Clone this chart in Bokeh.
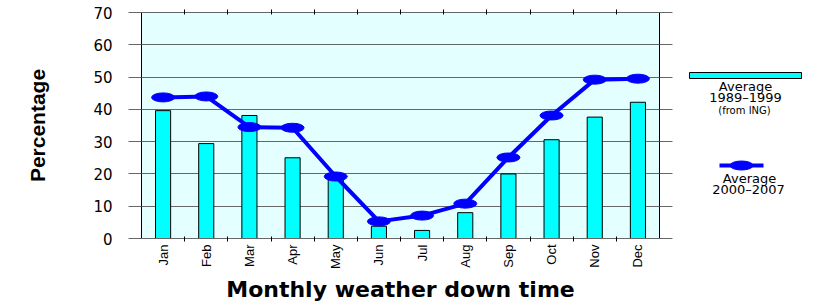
from bokeh.plotting import figure
from bokeh.models import Range1d, FixedTicker, LinearAxis, ColumnDataSource
from bokeh.layouts import row
from bokeh.core.properties import value
from bokeh.embed import file_html
from bokeh.resources import INLINE
import math

months = ["Jan", "Feb", "Mar", "Apr", "May", "Jun", "Jul", "Aug", "Sep", "Oct", "Nov", "Dec"]
avg_1989_1999 = [39.6, 29.4, 38.1, 25.0, 19.0, 3.8, 2.5, 8.0, 20.0, 30.6, 37.6, 42.2]
avg_2000_2007 = [43.7, 44.0, 34.5, 34.3, 19.2, 5.3, 7.1, 10.8, 25.1, 38.1, 49.2, 49.5]
y_ticks = [0, 10, 20, 30, 40, 50, 60, 70]
legend_labels = ["Average", "1989\u20131999", "(from ING)", "Average", "2000\u20132007"]

centers = [i + 0.5 for i in range(len(months))]
bounds = [i for i in range(1, len(months))]

GRID = "#666666"
BG = "#e3ffff"
FONT = "DejaVu Sans"

LEFT, RIGHT = 141, 21
TOP, BOTTOM = 12, 62
FW, FH = 518, 226

p = figure(width=LEFT + FW + RIGHT, height=TOP + FH + BOTTOM, frame_width=FW, frame_height=FH,
           output_backend="svg", toolbar_location=None,
           x_range=Range1d(0, len(months)), y_range=Range1d(0, 70),
           min_border_left=LEFT, min_border_right=RIGHT, min_border_top=TOP, min_border_bottom=BOTTOM,
           background_fill_color=BG, border_fill_color="white")
p.outline_line_color = None

src = ColumnDataSource(dict(x=centers, bar=avg_1989_1999, line=avg_2000_2007))
p.vbar(x="x", top="bar", width=0.35, bottom=0, source=src,
       fill_color="#00ffff", line_color="black", line_width=1)
p.line(x="x", y="line", source=src, line_color="#0000ff", line_width=4)
p.ellipse(x="x", y="line", width=23, height=9, width_units="screen", height_units="screen",
          source=src, fill_color="#0000ff", line_color="#0000ff")

# grid
p.xgrid.visible = False
p.ygrid.ticker = FixedTicker(ticks=y_ticks)
p.ygrid.grid_line_color = GRID

# left axis
ya = p.yaxis[0]
ya.ticker = FixedTicker(ticks=y_ticks)
ya.axis_line_color = "black"
ya.major_tick_line_color = GRID
ya.major_tick_out = 13
ya.major_tick_in = 0
ya.minor_tick_line_color = None
ya.major_label_standoff = 16
ya.major_label_text_font = FONT
ya.major_label_text_font_size = "15px"
ya.major_label_text_color = "black"
ya.axis_label = "Percentage"
ya.axis_label_text_font = "Liberation Sans"
ya.axis_label_text_font_style = "bold"
ya.axis_label_text_font_size = "21px"
ya.axis_label_text_color = "black"
ya.axis_label_standoff = 41

# right axis (tick marks only, via minor ticks)
ra = LinearAxis(ticker=FixedTicker(ticks=[], minor_ticks=y_ticks))
ra.axis_line_color = "black"
ra.major_tick_line_color = None
ra.minor_tick_line_color = GRID
ra.minor_tick_out = 13
ra.minor_tick_in = 0
ra.major_label_standoff = 0
p.add_layout(ra, "right")

# bottom axis
xa = p.xaxis[0]
xa.ticker = FixedTicker(ticks=centers, minor_ticks=bounds)
xa.major_label_overrides = {c: m for c, m in zip(centers, months)}
xa.major_tick_line_color = None
xa.major_tick_out = 0
xa.major_tick_in = 0
xa.minor_tick_line_color = "black"
xa.minor_tick_in = 2
xa.minor_tick_out = 3
xa.axis_line_color = GRID
xa.major_label_orientation = math.pi / 2
xa.major_label_standoff = 3
xa.major_label_text_font = "Liberation Sans"
xa.major_label_text_font_size = "13px"
xa.major_label_text_color = "black"
xa.axis_label = "Monthly weather down time"
xa.axis_label_text_font = FONT
xa.axis_label_text_font_style = "bold"
xa.axis_label_text_font_size = "22px"
xa.axis_label_text_color = "black"
xa.axis_label_standoff = 5

# top axis (boundary ticks only)
ta = LinearAxis(ticker=FixedTicker(ticks=[], minor_ticks=bounds))
ta.axis_line_color = GRID
ta.major_tick_line_color = None
ta.minor_tick_line_color = "black"
ta.minor_tick_in = 2
ta.minor_tick_out = 3
ta.major_label_standoff = 0
p.add_layout(ta, "above")

# legend panel (coordinates in page pixels, aligned with main frame)
LX0 = LEFT + FW + RIGHT
LW = 822 - LX0
leg = figure(width=LW, height=TOP + FH + BOTTOM, frame_width=LW, frame_height=FH,
             output_backend="svg", toolbar_location=None,
             x_range=Range1d(LX0, LX0 + LW), y_range=Range1d(TOP + FH, TOP),
             x_axis_type=None, y_axis_type=None,
             min_border_left=0, min_border_right=0, min_border_top=TOP, min_border_bottom=BOTTOM)
leg.grid.visible = False
leg.outline_line_color = None
leg.quad(left=[689], right=[801], top=[72], bottom=[78], fill_color="#00ffff", line_color="black")
leg.line(x=[719, 763], y=[165, 165], line_color="#0000ff", line_width=4)
leg.ellipse(x=[741], y=[165], width=23, height=9, width_units="screen", height_units="screen",
            fill_color="#0000ff", line_color="#0000ff")
leg.text(x=[745, 745], y=[86, 97], text=legend_labels[0:2], text_font=value(FONT),
         text_font_size="13px", text_align="center", text_baseline="middle", text_color="black")
leg.text(x=[744], y=[110], text=legend_labels[2:3], text_font=value(FONT),
         text_font_size="10px", text_align="center", text_baseline="middle", text_color="black")
leg.text(x=[749, 748], y=[178, 189], text=legend_labels[3:5], text_font=value(FONT),
         text_font_size="13px", text_align="center", text_baseline="middle", text_color="black")

layout = row(p, leg)
open("out.html", "w").write(file_html(layout, INLINE))
